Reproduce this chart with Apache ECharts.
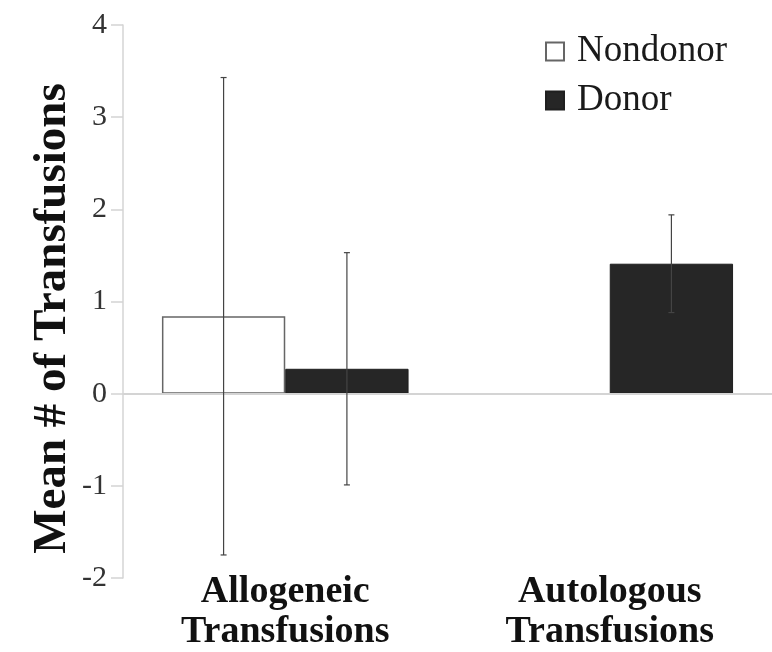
<!DOCTYPE html>
<html>
<head>
<meta charset="utf-8">
<script src="https://cdn.jsdelivr.net/npm/echarts@6/dist/echarts.min.js"></script>
<style>
html,body{margin:0;padding:0;background:#fff;}
#c{width:772px;height:652px;}
</style>
</head>
<body>
<div id="c"></div>
<script>
const categories = ['Allogeneic\nTransfusions', 'Autologous\nTransfusions'];
const seriesNames = ['Nondonor', 'Donor'];
const nondonorMean = [0.84, null];
const nondonorErr = [2.59, null];
const donorMean = [0.27, 1.41];
const donorErr = [1.26, 0.53];
const yTicks = [-2, -1, 0, 1, 2, 3, 4];

const CAT_GAP = 0.24;
const FONT = '"Liberation Serif", "Times New Roman", serif';

function errData(means, errs) {
  return means.map((m, i) => m == null ? null : [i, m - errs[i], m + errs[i]]).filter(d => d);
}

function errRender(sign) {
  return function (params, api) {
    const x = api.value(0);
    const lo = api.coord([x, api.value(1)]);
    const hi = api.coord([x, api.value(2)]);
    const band = api.size([1, 0])[0];
    const bw = band * (1 - CAT_GAP) / 2;
    const cx = lo[0] + sign * bw / 2;
    const cap = 3;
    const style = { stroke: '#444', lineWidth: 1.2 };
    return {
      type: 'group',
      children: [
        { type: 'line', shape: { x1: cx, y1: lo[1], x2: cx, y2: hi[1] }, style },
        { type: 'line', shape: { x1: cx - cap, y1: lo[1], x2: cx + cap, y2: lo[1] }, style },
        { type: 'line', shape: { x1: cx - cap, y1: hi[1], x2: cx + cap, y2: hi[1] }, style }
      ]
    };
  };
}

const chart = echarts.init(document.getElementById('c'));
chart.setOption({
  animation: false,
  backgroundColor: '#fff',
  grid: { left: 123, right: 0, top: 25, bottom: 70 },
  legend: {
    orient: 'vertical',
    left: 540,
    top: 28,
    icon: 'rect',
    itemWidth: 18,
    itemHeight: 18,
    itemGap: 12,
    data: seriesNames,
    textStyle: { fontFamily: FONT, fontSize: 37, color: '#1a1a1a', padding: [0, 0, 0, 8] }
  },
  xAxis: {
    type: 'category',
    data: categories,
    axisLine: { show: false, onZero: false },
    axisTick: { show: false },
    axisLabel: {
      fontFamily: FONT, fontSize: 38, fontWeight: 'bold', color: '#111',
      lineHeight: 40, margin: -6
    }
  },
  yAxis: {
    type: 'value',
    min: -2, max: 4, interval: 1,
    name: 'Mean # of Transfusions',
    nameLocation: 'middle',
    nameGap: 47,
    nameMoveOverlap: false,
    nameTextStyle: { fontFamily: FONT, fontSize: 47, fontWeight: 'bold', color: '#111', padding: [0, 34, 0, 0] },
    axisLine: { show: true, lineStyle: { color: '#d4d4d4', width: 1.5 } },
    axisTick: { show: true, inside: false, length: 12, lineStyle: { color: '#d4d4d4', width: 1.5 } },
    splitLine: { show: false },
    axisLabel: {
      fontFamily: FONT, fontSize: 30, color: '#333', margin: 16,
      formatter: v => yTicks.indexOf(v) >= 0 ? String(v) : ''
    }
  },
  series: [
    {
      name: 'Nondonor', type: 'bar', data: nondonorMean,
      barGap: '0%', barCategoryGap: (CAT_GAP * 100) + '%',
      itemStyle: { color: '#fff', borderColor: '#666', borderWidth: 1.5 },
      markLine: {
        silent: true, symbol: 'none', label: { show: false },
        lineStyle: { color: '#d4d4d4', width: 2, type: 'solid' },
        data: [{ yAxis: 0 }]
      }
    },
    {
      name: 'Donor', type: 'bar', data: donorMean,
      itemStyle: { color: '#262626', borderColor: '#1f1f1f', borderWidth: 1 }
    },
    {
      type: 'custom', name: 'errN', data: errData(nondonorMean, nondonorErr),
      renderItem: errRender(-1), z: 10, encode: { x: 0, y: [1, 2] }
    },
    {
      type: 'custom', name: 'errD', data: errData(donorMean, donorErr),
      renderItem: errRender(1), z: 10, encode: { x: 0, y: [1, 2] }
    }
  ]
});
</script>
</body>
</html>
